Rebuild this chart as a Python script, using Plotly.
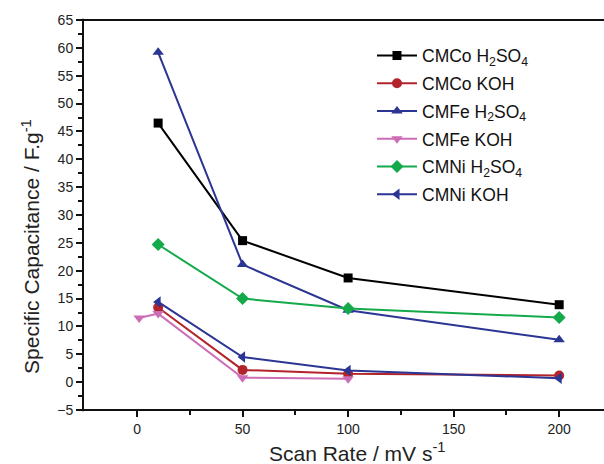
import plotly.graph_objects as go

# Scan rates (mV/s) and specific capacitance (F/g) per electrode / electrolyte
scan_rate = [10, 50, 100, 200]
scan_rate_fe_koh = [1, 10, 50, 100]

cmco_h2so4 = [46.5, 25.4, 18.7, 13.9]
cmco_koh = [13.4, 2.2, 1.5, 1.2]
cmfe_h2so4 = [59.2, 21.1, 12.9, 7.6]
cmfe_koh = [11.5, 12.3, 0.8, 0.6]
cmni_h2so4 = [24.7, 15.0, 13.2, 11.6]
cmni_koh = [14.4, 4.5, 2.1, 0.7]

series = [
    ("CMCo H<sub>2</sub>SO<sub>4</sub>", scan_rate, cmco_h2so4, "#000000", "square"),
    ("CMCo KOH", scan_rate, cmco_koh, "#B3232B", "circle"),
    ("CMFe H<sub>2</sub>SO<sub>4</sub>", scan_rate, cmfe_h2so4, "#2B3593", "triangle-up"),
    ("CMFe KOH", scan_rate_fe_koh, cmfe_koh, "#CC6DB6", "triangle-down"),
    ("CMNi H<sub>2</sub>SO<sub>4</sub>", scan_rate, cmni_h2so4, "#14A94B", "diamond"),
    ("CMNi KOH", scan_rate, cmni_koh, "#2B3593", "triangle-left"),
]

fig = go.Figure()
for i, (name, xs, ys, color, symbol) in enumerate(series):
    fig.add_trace(go.Scatter(
        x=xs, y=ys, name=name, mode="lines+markers", legendgroup=f"g{i}",
        line=dict(color=color, width=2),
        marker=dict(symbol=symbol, size=10 if symbol != "square" else 9, color=color),
    ))

font_family = "Liberation Sans, Arial, sans-serif"
axis_color = "#111111"

fig.update_layout(
    width=604, height=464,
    margin=dict(l=83, r=14, t=20, b=54, autoexpand=False),
    paper_bgcolor="white", plot_bgcolor="white",
    font=dict(family=font_family, color="#222222", size=14),
    showlegend=True,
    legend=dict(
        x=0.57, y=0.955, xanchor="left", yanchor="top",
        bgcolor="rgba(0,0,0,0)", borderwidth=0, font=dict(size=17.5, color="#111111"),
        tracegroupgap=2, itemwidth=40,
    ),
    xaxis=dict(
        range=[-25.6, 214.6], tickmode="array",
        tickvals=[0, 50, 100, 150, 200],
        ticks="outside", ticklen=6, tickwidth=2, tickcolor=axis_color,
        minor=dict(tickvals=[25, 75, 125, 175], ticks="outside", ticklen=4, tickwidth=2,
                   tickcolor=axis_color, showgrid=False),
        showline=False, showgrid=False, zeroline=False,
        tickfont=dict(size=14),
    ),
    yaxis=dict(
        range=[-5, 65], tickmode="linear", tick0=-5, dtick=5,
        ticks="outside", ticklen=6, tickwidth=2, tickcolor=axis_color,
        minor=dict(dtick=2.5, tick0=-5, ticks="outside", ticklen=4, tickwidth=2,
                   tickcolor=axis_color, showgrid=False),
        showline=False, showgrid=False, zeroline=False,
        tickfont=dict(size=14),
    ),
)

# frame: left, bottom and top lines, run on to the right edge of the page
frame = dict(color=axis_color, width=2)
fig.add_shape(type="line", xref="paper", yref="paper", x0=0, x1=0, y0=-0.003, y1=1.003, line=frame)
fig.add_shape(type="line", xref="paper", yref="paper", x0=0, x1=1.03, y0=0, y1=0, line=frame)
fig.add_shape(type="line", xref="paper", yref="paper", x0=0, x1=1.03, y0=1, y1=1, line=frame)

# axis titles
fig.add_annotation(text="Scan Rate / mV s<sup>-1</sup>", xref="paper", yref="paper",
                   x=0.54, y=-0.108, xanchor="center", yanchor="middle",
                   showarrow=False, font=dict(size=21, color="#222222"))
fig.add_annotation(text="Specific Capacitance / F.g<sup>-1</sup>", xref="paper", yref="paper",
                   x=-0.103, y=0.42, xanchor="center", yanchor="middle", textangle=-90,
                   showarrow=False, font=dict(size=21, color="#222222"))

fig.write_html("out.html", config={"displayModeBar": False})
